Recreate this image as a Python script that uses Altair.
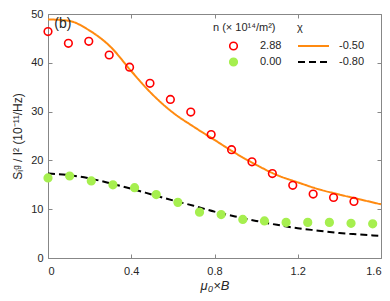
import altair as alt
import pandas as pd

# ---- data ----
red_x = [0, 0.098, 0.196, 0.294, 0.392, 0.49, 0.588, 0.686, 0.784, 0.882, 0.98, 1.078, 1.176, 1.274, 1.372, 1.47]
red_y = [46.4, 44.0, 44.4, 41.6, 39.1, 35.8, 32.5, 29.9, 25.3, 22.2, 19.7, 17.3, 14.9, 13.1, 12.4, 11.6]

green_x = [0, 0.104, 0.208, 0.312, 0.416, 0.52, 0.624, 0.728, 0.832, 0.936, 1.04, 1.144, 1.248, 1.352, 1.456, 1.56]
green_y = [16.4, 16.8, 15.8, 15.0, 14.4, 13.0, 11.4, 9.4, 8.9, 7.9, 7.6, 7.3, 7.3, 7.3, 7.1, 7.0]

curve_x = [0, 0.1, 0.2, 0.3, 0.4, 0.5, 0.6, 0.7, 0.8, 0.9, 1.0, 1.1, 1.2, 1.3, 1.4, 1.5, 1.6]
orange_y = [48.9, 48.6, 46.6, 43.3, 38.3, 33.6, 29.8, 26.9, 24.2, 21.5, 19.1, 17.0, 15.5, 14.1, 13.0, 12.0, 11.0]
black_y = [17.3, 17.0, 16.3, 15.3, 14.2, 13.0, 11.8, 10.7, 9.5, 8.5, 7.6, 6.8, 6.1, 5.6, 5.1, 4.8, 4.5]

n_labels = ["2.88", "0.00"]
chi_labels = ["-0.50", "-0.80"]
x_ticks = [0, 0.4, 0.8, 1.2, 1.6]
y_ticks = [0, 10, 20, 30, 40, 50]
panel_label = ["(b)"]

pts = pd.DataFrame({
    "x": red_x + green_x,
    "y": red_y + green_y,
    "n": [n_labels[0]] * len(red_x) + [n_labels[1]] * len(green_x),
})
lines = pd.DataFrame({
    "x": curve_x + curve_x,
    "y": orange_y + black_y,
    "chi": [chi_labels[0]] * len(curve_x) + [chi_labels[1]] * len(curve_x),
})
lab = pd.DataFrame({"t": panel_label})

# ---- style ----
TOP = 6
W, H = 333, 244
GRAY = "#878787"
TXT = "#262626"
FONT = "Liberation Sans"
ORANGE = "#ff8a10"
GREEN = "#a6ef4f"
RED = "#ff0000"
NB = "\u00a0"

xscale = alt.Scale(domain=[0, 1.6], nice=False, zero=False)
yscale = alt.Scale(domain=[0, 50], nice=False)

common = dict(grid=False, labelFont=FONT, titleFont=FONT, labelColor=TXT, titleColor=TXT,
              domainColor=GRAY, tickColor=GRAY, labelFontSize=11)

main_x_axis = alt.Axis(values=x_ticks, labelExpr="format(datum.value, '~g')", title="μ₀×B",
                       ticks=False, tickSize=0,
                       labelPadding=7, titleFontStyle="italic", titleFontWeight="normal",
                       titleFontSize=13, titlePadding=3, **common)
main_y_axis = alt.Axis(values=y_ticks, format="d", title="Sᵢᵍ / I² (10⁻¹¹/Hz)", ticks=False,
                       tickSize=0, labelPadding=5, titleFontWeight="normal", titleFontSize=12,
                       titlePadding=6, **common)

# inward ticks at bottom / left (opposite-orient axes moved across the plot)
tick_bottom = alt.Axis(orient="top", offset=-H, values=x_ticks, labels=False, ticks=True,
                       tickSize=4, domain=False, title=None, **common)
tick_left = alt.Axis(orient="right", offset=-W, values=y_ticks, labels=False, ticks=True,
                     tickSize=4, domain=False, title=None, **common)
# top / right border with inward ticks
tick_top = alt.Axis(orient="bottom", offset=-H, values=x_ticks, labels=False, ticks=True,
                    tickSize=4, domain=True, title=None, **common)
tick_right = alt.Axis(orient="left", offset=-W, values=y_ticks, labels=False, ticks=True,
                      tickSize=4, domain=True, title=None, **common)

leg_common = dict(orient="none", titleFont=FONT, labelFont=FONT, titleColor=TXT, labelColor=TXT,
                  titleFontSize=11, labelFontSize=11, titleFontWeight="normal", padding=0,
                  clipHeight=14, rowPadding=2, titlePadding=6)

n_legend = alt.Legend(title="n (× 10¹⁴/m²)", legendX=165, legendY=14 - TOP, symbolType="circle",
                      symbolSize=58, symbolStrokeWidth=1.6, symbolOffset=15, labelOffset=21,
                      **leg_common)
chi_legend = alt.Legend(title=NB * 10 + "χ", legendX=249, legendY=14 - TOP, symbolType="stroke",
                        symbolSize=961, symbolStrokeWidth=2, labelOffset=9,
                        **leg_common)

line_layer = alt.Chart(lines).mark_line(strokeWidth=2, interpolate="monotone").encode(
    x=alt.X("x:Q", scale=xscale, axis=main_x_axis),
    y=alt.Y("y:Q", scale=yscale, axis=main_y_axis),
    color=alt.Color("chi:N", scale=alt.Scale(domain=chi_labels, range=[ORANGE, "black"]),
                    legend=chi_legend),
    strokeDash=alt.StrokeDash("chi:N", scale=alt.Scale(domain=chi_labels, range=[[1, 0], [7, 4]]),
                              legend=chi_legend),
)

pt_layer = alt.Chart(pts).mark_point(shape="circle", size=58, strokeWidth=1.6, opacity=1).encode(
    x=alt.X("x:Q", scale=xscale, axis=tick_bottom),
    y=alt.Y("y:Q", scale=yscale, axis=tick_left),
    stroke=alt.Stroke("n:N", scale=alt.Scale(domain=n_labels, range=[RED, GREEN]), legend=n_legend),
    fill=alt.Fill("n:N", scale=alt.Scale(domain=n_labels, range=["transparent", GREEN]), legend=n_legend),
)

b_layer = alt.Chart(lab).mark_text(align="left", baseline="middle", fontSize=14, font=FONT,
                                   color=TXT).encode(
    x=alt.XDatum(0.03, scale=xscale, axis=tick_top),
    y=alt.YDatum(48.0, scale=yscale, axis=tick_right),
    text="t:N",
)

chart = alt.layer(line_layer, pt_layer, b_layer).resolve_axis(
    x="independent", y="independent"
).properties(
    width=W, height=H,
    autosize=alt.AutoSizeParams(type="none"),
    padding={"left": 40, "top": TOP, "right": 1, "bottom": 35},
).configure_view(strokeWidth=0)

chart.save("out.html", embed_options={"renderer": "svg", "actions": False})
